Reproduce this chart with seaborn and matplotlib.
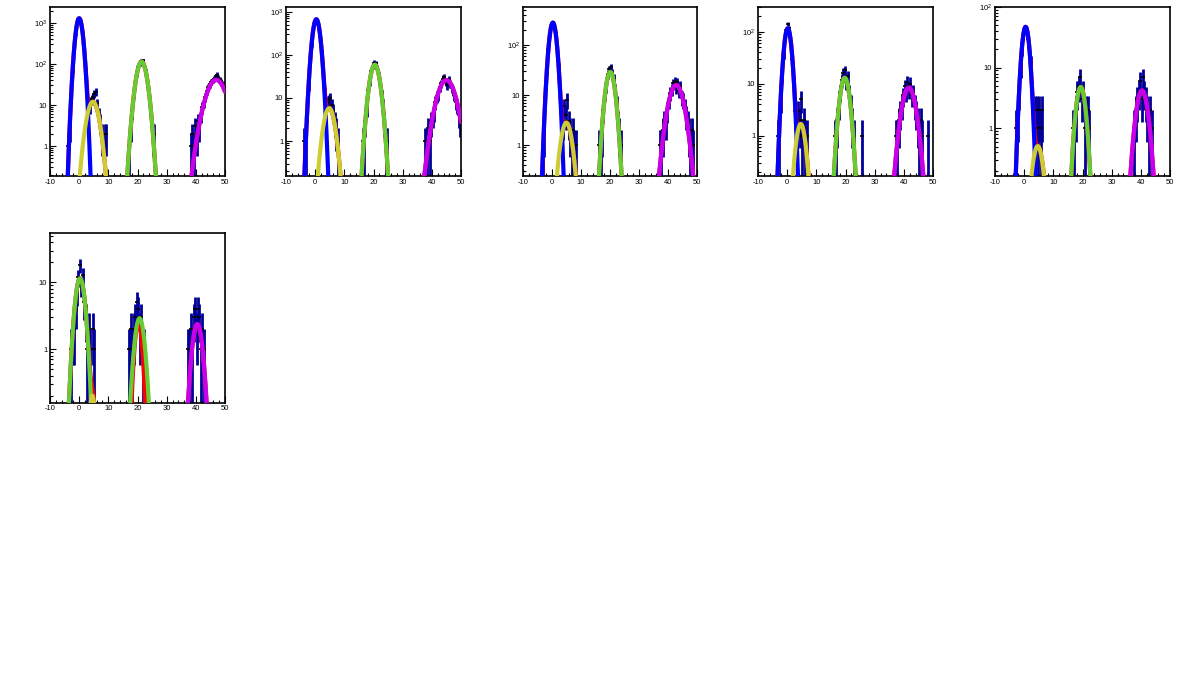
import numpy as np
import matplotlib
matplotlib.use("Agg")
import matplotlib.pyplot as plt
import seaborn as sns
from matplotlib.ticker import LogLocator, MultipleLocator, FuncFormatter, NullFormatter

sns.set_style("ticks")
plt.rcParams["font.family"] = ["Liberation Sans", "DejaVu Sans"]
plt.rcParams["mathtext.default"] = "regular"
plt.rcParams["axes.unicode_minus"] = False

# histogram binning: three populated stretches per pad, bins 0.5 wide
bin_width = 0.5
seg_starts = [-4.0, 16.0, 37.0]

pad1_counts = [
    [1, 3, 15, 68, 225, 520, 950, 1240, 1270, 925, 540, 215, 74, 24, 12, 9, 14, 16, 19, 21, 11, 6, 4, 2, 0, 2, 2, 0],
    [0, 0, 1, 3, 7, 19, 31, 58, 84, 98, 118, 122, 96, 68, 44, 27, 12, 6, 2, 2, 0, 0],
    [0, 0, 1, 2, 1, 3, 2, 4, 3, 6, 9, 12, 16, 22, 27, 32, 36, 40, 44, 50, 55, 46, 42, 38, 33, 27],
]
pad2_counts = [
    [1, 1, 5, 19, 70, 165, 350, 530, 670, 640, 470, 262, 118, 44, 14, 6, 8, 9, 10, 7, 5, 3, 2, 1, 0, 0, 0, 0],
    [1, 1, 3, 6, 15, 24, 42, 55, 66, 63, 52, 35, 21, 12, 7, 3, 1, 1, 0, 0, 0, 0],
    [0, 1, 1, 2, 1, 3, 4, 5, 8, 11, 12, 18, 22, 28, 31, 24, 20, 27, 22, 17, 15, 12, 8, 7, 4, 3],
]
pad3_counts = [
    [0, 1, 2, 9, 31, 85, 158, 236, 290, 262, 172, 98, 38, 14, 5, 3, 6, 4, 8, 3, 2, 1, 2, 1, 1, 0, 0, 0],
    [1, 1, 2, 5, 11, 15, 26, 33, 36, 28, 22, 13, 7, 3, 2, 1, 0, 0, 0, 0, 0, 0],
    [1, 1, 2, 3, 3, 5, 8, 11, 13, 17, 19, 14, 18, 12, 15, 9, 8, 6, 4, 3, 2, 1, 2, 1, 0, 0],
]
pad4_counts = [
    [0, 1, 1, 5, 14, 36, 75, 108, 140, 118, 62, 30, 11, 3, 2, 3, 2, 5, 1, 2, 1, 1, 0, 0, 0, 0, 0, 0],
    [1, 1, 2, 4, 7, 12, 16, 18, 11, 14, 7, 4, 2, 1, 0, 0, 0, 0, 0, 1, 0, 0],
    [1, 1, 2, 3, 4, 6, 9, 7, 11, 8, 10, 6, 7, 4, 3, 2, 1, 2, 1, 0, 0, 0, 1, 0, 0, 0],
]
pad5_counts = [
    [0, 0, 1, 2, 4, 10, 20, 33, 44, 41, 30, 21, 12, 4, 1, 2, 2, 1, 2, 1, 2, 0, 0, 0, 0, 0, 0, 0],
    [0, 1, 1, 2, 4, 5, 7, 3, 4, 1, 2, 2, 1, 0, 0, 0, 0, 0, 0, 0, 0, 0],
    [0, 1, 2, 3, 4, 6, 3, 7, 4, 3, 2, 1, 2, 1, 0, 0, 0, 0, 0, 0, 0, 0, 0, 0, 0, 0],
]
pad6_counts = [
    [0, 0, 1, 2, 2, 4, 7, 12, 18, 9, 13, 5, 3, 1, 2, 1, 0, 2, 1, 0, 0, 0, 0, 0, 0, 0, 0, 0],
    [0, 0, 1, 2, 1, 2, 3, 5, 4, 2, 3, 1, 1, 0, 0, 0, 0, 0, 0, 0, 0, 0],
    [1, 1, 2, 1, 3, 4, 2, 4, 3, 1, 2, 1, 0, 0, 0, 0, 0, 0, 0, 0, 0, 0, 0, 0, 0, 0],
]

# fitted gaussian components (colour, amplitude, mean, sigma)
pad1_fits = [("blue", 1300, 0.0, 0.93), ("yellow", 12, 4.7, 1.56), ("green", 114, 21.4, 1.37), ("magenta", 41, 47.0, 2.6)]
pad2_fits = [("blue", 667, 0.4, 1.0), ("yellow", 5.8, 4.8, 1.45), ("green", 59, 20.45, 1.32), ("magenta", 26, 45.0, 2.37)]
pad3_fits = [("blue", 280, 0.3, 0.99), ("yellow", 2.8, 4.95, 1.47), ("green", 29, 20.1, 1.26), ("magenta", 15.8, 42.8, 2.04)]
pad4_fits = [("blue", 116, 0.2, 0.97), ("yellow", 1.68, 4.65, 1.24), ("green", 13, 19.75, 1.27), ("magenta", 8.4, 41.7, 1.79)]
pad5_fits = [("blue", 47, 0.5, 1.01), ("yellow", 0.51, 4.65, 1.43), ("green", 4.8, 19.4, 1.27), ("magenta", 4.2, 40.4, 1.57)]
pad6_fits = [("green", 11.5, 0.3, 1.3), ("yellow", 0.2, 4.5, 0.8), ("green", 2.9, 20.7, 1.32), ("magenta", 2.37, 40.5, 1.37)]
# total fit (red) of the last pad differs from its components around 20
pad6_total = [(11.5, 0.3, 1.3), (0.2, 4.5, 0.8), (2.5, 20.3, 1.0), (2.37, 40.5, 1.37)]

y_limits = [(0.186, 2520), (0.155, 1320), (0.24, 589), (0.168, 305), (0.164, 101.7), (0.157, 55.5)]

colors = {"blue": "#0000ff", "yellow": "#cccc33", "green": "#66cc33",
          "magenta": "#c800f0", "red": "#ff0000", "hist": "#000099"}

# axes boxes in pixels: left, top, right, bottom
W, H = 1181, 679
boxes = [(50, 6.5, 225, 176), (286, 6.5, 461, 176), (523, 6.5, 697, 176),
         (758, 6.5, 933, 176), (995, 6.5, 1170, 176), (50, 232.7, 225, 402.7)]

all_counts = [pad1_counts, pad2_counts, pad3_counts, pad4_counts, pad5_counts, pad6_counts]
all_fits = [pad1_fits, pad2_fits, pad3_fits, pad4_fits, pad5_fits, pad6_fits]

fig = plt.figure(figsize=(W / 100, H / 100), dpi=100)
fig.patch.set_facecolor("white")

xs = np.linspace(-10, 50, 1201)


def gauss(x, a, m, s):
    return a * np.exp(-0.5 * ((x - m) / s) ** 2)


def log_label(v, pos):
    if v <= 0:
        return ""
    e = int(round(np.log10(v)))
    if e == 0:
        return "1"
    if e == 1:
        return "10"
    return "$10^{%d}$" % e


for i in range(6):
    l, t, r, b = boxes[i]
    ax = fig.add_axes([l / W, 1 - b / H, (r - l) / W, (b - t) / H])
    ymin, ymax = y_limits[i]
    floor = ymin * 0.3

    # histogram: thick navy error bars + small black markers
    for start, seg in zip(seg_starts, all_counts[i]):
        n = np.array(seg, dtype=float)
        centers = start + bin_width * (np.arange(len(n)) + 0.5)
        keep = n > 0
        c, n = centers[keep], n[keep]
        lo = np.where(n - np.sqrt(n) > 0, n - np.sqrt(n), floor)
        hi = n + np.sqrt(n)
        ax.vlines(c, lo, hi, color=colors["hist"], lw=2.0, zorder=2)
        ax.plot(c, n, ls="none", marker="_", ms=3, mew=1.2, color="black", zorder=3)

    # total fit in red underneath the components
    if i == 5:
        total = sum(gauss(xs, a, m, s) for a, m, s in pad6_total)
    else:
        total = sum(gauss(xs, a, m, s) for _, a, m, s in all_fits[i])
    sns.lineplot(x=xs, y=np.maximum(total, floor), color=colors["red"], lw=3.0,
                 estimator=None, ax=ax, legend=False, zorder=4)

    for name, a, m, s in all_fits[i]:
        ys = np.maximum(gauss(xs, a, m, s), floor)
        sns.lineplot(x=xs, y=ys, color=colors[name], lw=3.0,
                     estimator=None, ax=ax, legend=False, zorder=5)

    ax.set_yscale("log")
    ax.set_xlim(-10, 50)
    ax.set_ylim(ymin, ymax)
    ax.set_xlabel("")
    ax.set_ylabel("")

    ax.xaxis.set_major_locator(MultipleLocator(10))
    ax.xaxis.set_minor_locator(MultipleLocator(2))
    ax.yaxis.set_major_locator(LogLocator(base=10, numticks=20))
    ax.yaxis.set_minor_locator(LogLocator(base=10, subs=np.arange(2, 10), numticks=20))
    ax.yaxis.set_major_formatter(FuncFormatter(log_label))
    ax.yaxis.set_minor_formatter(NullFormatter())

    ax.tick_params(axis="both", which="both", direction="in", bottom=True, left=True,
                   top=False, right=False, colors="black", labelsize=5.5, pad=2)
    ax.tick_params(axis="x", which="major", length=5, width=0.8)
    ax.tick_params(axis="x", which="minor", length=2.5, width=0.8)
    ax.tick_params(axis="y", which="major", length=4, width=0.8)
    ax.tick_params(axis="y", which="minor", length=2, width=0.8)

    for sp in ax.spines.values():
        sp.set_visible(True)
        sp.set_color("black")
        sp.set_linewidth(1.2)
    ax.set_facecolor("white")

fig.savefig("out.png", dpi=100, facecolor="white")
